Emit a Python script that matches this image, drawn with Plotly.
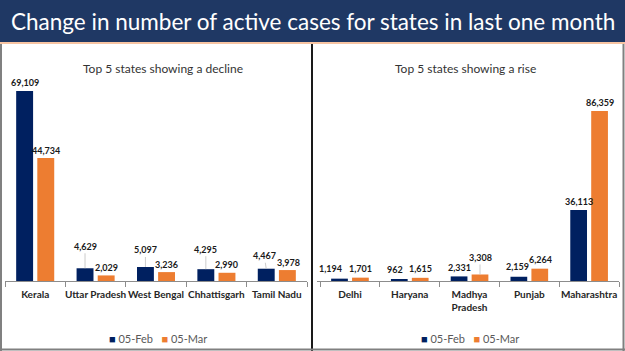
import plotly.graph_objects as go

# ---- data ----
states_decline = ["Kerala", "Uttar Pradesh", "West Bengal", "Chhattisgarh", "Tamil Nadu"]
feb_decline = [69109, 4629, 5097, 4295, 4467]
mar_decline = [44734, 2029, 3236, 2990, 3978]

states_rise = ["Delhi", "Haryana", "Madhya<br>Pradesh", "Punjab", "Maharashtra"]
feb_rise = [1194, 962, 2331, 2159, 36113]
mar_rise = [1701, 1615, 3308, 6264, 86359]

series_names = ["05-Feb", "05-Mar"]
title_text = "Change in number of active cases for states in last one month"
panel_titles = ["Top 5 states showing a decline", "Top 5 states showing a rise"]

# ---- style ----
W, H = 625, 351
NAVY = "#002060"
ORANGE = "#ED7D31"
COLORS = [NAVY, ORANGE]
FONT = "Lato"
BARGAP = 0.3
BARGROUPGAP = 0.2
OFF = (1 - BARGAP) / 4  # bar-centre offset from category centre (category units)

def py(px):
    return 1 - px / H

def pxx(px):
    return px / W

fig = go.Figure()

panels = [
    dict(cats=states_decline, feb=feb_decline, mar=mar_decline, xa="x", ya="y",
         legend_cx=158,
         # (pixel offset above bar top, leader line?, xshift)
         feb_lab=[(9, False, 0), (22, True, 0), (17, True, 0), (20, True, 0), (13, True, -2)],
         mar_lab=[(8, False, 0), (8, False, 0), (8, False, 0), (8, False, 0), (8, False, 1)]),
    dict(cats=states_rise, feb=feb_rise, mar=mar_rise, xa="x2", ya="y2",
         legend_cx=470,
         feb_lab=[(10, False, -9), (10, False, -4), (9, False, 0), (10, False, -1), (8, False, 0)],
         mar_lab=[(9, False, 0), (9, False, 0), (17, True, 0), (9, False, 1), (9, False, 0)]),
]

annotations = []
for p in panels:
    for name, vals, col in zip(series_names, [p["feb"], p["mar"]], COLORS):
        fig.add_trace(go.Bar(
            x=p["cats"], y=vals, name=name, marker=dict(color=col, line=dict(width=0)),
            xaxis=p["xa"], yaxis=p["ya"], showlegend=False, hoverinfo="skip",
        ))
    for vals, labs, sign in [(p["feb"], p["feb_lab"], -1), (p["mar"], p["mar_lab"], 1)]:
        for i, (v, (off, leader, xs)) in enumerate(zip(vals, labs)):
            common = dict(x=i + sign * OFF, y=v, xref=p["xa"], yref=p["ya"],
                          text=f"{v:,}", xanchor="center",
                          font=dict(family=FONT, size=9, color="#1a1a1a", weight="bold"))
            if leader:
                annotations.append(dict(**common, showarrow=True, arrowhead=0, arrowwidth=0.8,
                                        arrowcolor="#bfbfbf", ax=xs, ay=-off, standoff=0))
            else:
                annotations.append(dict(**common, showarrow=False, xshift=xs, yshift=off,
                                        yanchor="middle"))
    # legend (per panel)
    legend_text = "&nbsp;&nbsp;&nbsp;".join(
        f"<span style='color:{c}'>■</span> {n}" for n, c in zip(series_names, COLORS))
    annotations.append(dict(text=legend_text, x=pxx(p["legend_cx"]), y=py(338),
                            xref="paper", yref="paper", xanchor="center", yanchor="middle",
                            showarrow=False, font=dict(family=FONT, size=11, color="#595959")))

# panel titles
for t, cx in zip(panel_titles, [163, 465]):
    annotations.append(dict(text=t, x=pxx(cx), y=py(69), xref="paper", yref="paper",
                            xanchor="center", yanchor="middle", showarrow=False,
                            font=dict(family=FONT, size=12, color="#333333")))
# main title
annotations.append(dict(text=title_text, x=0.5, y=py(21), xref="paper", yref="paper",
                        xanchor="center", yanchor="middle", showarrow=False,
                        font=dict(family=FONT, size=22.5, color="white")))

shapes = [
    dict(type="rect", xref="paper", yref="paper", x0=0, x1=1, y0=py(42), y1=1,
         fillcolor="#1f3864", line=dict(width=0), layer="below"),
    dict(type="line", xref="paper", yref="paper", x0=0, x1=1, y0=py(43), y1=py(43),
         line=dict(color="#f4b183", width=1.5)),
    dict(type="line", xref="paper", yref="paper", x0=pxx(312), x1=pxx(312), y0=0, y1=py(44),
         line=dict(color="#1a1a1a", width=2)),
    dict(type="line", xref="paper", yref="paper", x0=pxx(1), x1=pxx(1), y0=0, y1=py(44),
         line=dict(color="#808080", width=2)),
    dict(type="line", xref="paper", yref="paper", x0=pxx(623.5), x1=pxx(623.5), y0=0, y1=py(44),
         line=dict(color="#808080", width=2)),
    dict(type="line", xref="paper", yref="paper", x0=0, x1=1, y0=py(349.5), y1=py(349.5),
         line=dict(color="#808080", width=2)),
]

xaxis_common = dict(type="category", showline=True, linecolor="#8c8c8c", linewidth=1,
                    ticks="outside", ticklen=5, tickcolor="#8c8c8c", tickson="boundaries",
                    showgrid=False, zeroline=False, fixedrange=True, tickangle=0,
                    automargin=False, ticklabelstandoff=4,
                    tickfont=dict(family=FONT, size=10, color="#262626", weight="bold"))
yaxis_common = dict(visible=False, showgrid=False, zeroline=False, fixedrange=True)

ydom = [py(281), py(80)]
fig.update_layout(
    width=W, height=H, autosize=False, margin=dict(l=0, r=0, t=0, b=0, pad=0),
    paper_bgcolor="white", plot_bgcolor="white", showlegend=False,
    barmode="group", bargap=BARGAP, bargroupgap=BARGROUPGAP,
    xaxis=dict(**xaxis_common, domain=[pxx(5), pxx(307)], anchor="y"),
    yaxis=dict(**yaxis_common, domain=ydom, range=[0, 73110], anchor="x"),
    xaxis2=dict(**xaxis_common, domain=[pxx(317), pxx(619)], anchor="y2"),
    yaxis2=dict(**yaxis_common, domain=ydom, range=[0, 102125], anchor="x2"),
    annotations=annotations, shapes=shapes,
)

fig.write_html("out.html", post_script="document.body.style.margin='0';document.body.style.overflow='hidden';")
